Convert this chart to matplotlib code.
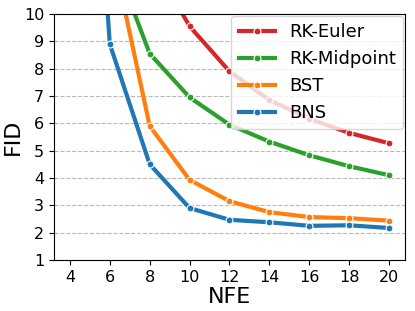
import numpy as np
import matplotlib
matplotlib.use("Agg")
import matplotlib.pyplot as plt

# NFE steps and FID values
nfe = [4, 6, 8, 10, 12, 14, 16, 18, 20]
fid_euler = [18.0, 15.0, 12.1, 9.55, 7.9, 6.85, 6.17, 5.65, 5.27]
fid_midpoint = [16.0, 12.4, 8.55, 6.95, 5.95, 5.33, 4.83, 4.43, 4.1]
fid_bst = [20.0, 12.7, 5.9, 3.93, 3.15, 2.75, 2.57, 2.53, 2.44]
fid_bns = [30.0, 8.9, 4.5, 2.9, 2.47, 2.38, 2.25, 2.27, 2.17]

series = [
    ("RK-Euler", fid_euler, "tab:red"),
    ("RK-Midpoint", fid_midpoint, "tab:green"),
    ("BST", fid_bst, "tab:orange"),
    ("BNS", fid_bns, "tab:blue"),
]

fig, ax = plt.subplots(figsize=(4.15, 3.11), dpi=100)
fig.subplots_adjust(left=0.13, right=0.976, top=0.955, bottom=0.164)

for name, vals, col in series:
    ax.plot(nfe, vals, label=name, color=col, linewidth=3,
            marker="o", markersize=5, markeredgecolor="white", markeredgewidth=0.8)

ax.set_ylim(1, 10)
ax.set_xticks(range(4, 21, 2))
ax.set_yticks(range(1, 11))
ax.yaxis.grid(True, linestyle="--", color="#b8b8b8", linewidth=0.8)
ax.set_axisbelow(True)
ax.tick_params(labelsize=11.5)
ax.set_xlabel("NFE", fontsize=16, labelpad=2)
ax.set_ylabel("FID", fontsize=16, labelpad=1)
ax.legend(loc="upper right", fontsize=13, handlelength=2.0, borderaxespad=0.1)

plt.savefig("out.png", dpi=100)
